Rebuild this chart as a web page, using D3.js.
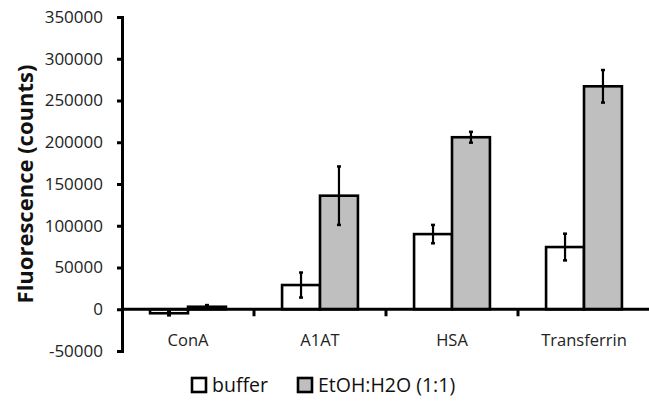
<!DOCTYPE html>
<html>
<head>
<meta charset="utf-8">
<script src="https://cdn.jsdelivr.net/npm/d3@7"></script>
<style>
  body { margin: 0; background: #fff; }
  svg { font-family: "Open Sans", sans-serif; }
</style>
</head>
<body>
<svg id="chart" width="649" height="413"></svg>
<script>
// data
var categories = ['ConA', 'A1AT', 'HSA', 'Transferrin'];
var seriesNames = ['buffer', 'EtOH:H2O (1:1)'];
var bufferVals = [-4800, 29000, 90000, 74500];
var bufferErr = [2500, 15000, 11000, 16000];
var ethanolVals = [3000, 136000, 206000, 267000];
var ethanolErr = [2000, 35000, 6500, 19500];
var yTicks = [-50000, 0, 50000, 100000, 150000, 200000, 250000, 300000, 350000];
var fills = ['#ffffff', '#bfbfbf'];

var svg = d3.select('#chart');
var left = 122, right = 650;

var y = d3.scaleLinear().domain([-50000, 350000]).range([351, 17]);
var x = d3.scaleBand().domain(categories).range([left, right]).paddingInner(0).paddingOuter(0);
var inner = d3.scaleBand().domain([0, 1]).range([0, x.bandwidth()]).paddingOuter(0.74).paddingInner(0);

// y axis
var yAxis = d3.axisLeft(y).tickValues(yTicks).tickSize(5).tickPadding(14)
  .tickFormat((d) => d < 0 ? '-' + Math.abs(d) : String(d));
var yg = svg.append('g').attr('transform', 'translate(' + left + ',0)').call(yAxis);
yg.select('.domain').attr('stroke', '#000').attr('stroke-width', 3);
yg.selectAll('.tick line').attr('stroke', '#000').attr('stroke-width', 3);
yg.selectAll('.tick text').attr('fill', '#222').style('font-size', '17px').style('font-family', '"Open Sans", sans-serif');

svg.append('text')
  .attr('transform', 'translate(33,' + 184 + ')rotate(-90)')
  .attr('text-anchor', 'middle')
  .style('font-size', '22px')
  .style('font-weight', 'bold')
  .attr('fill', '#111')
  .text('Fluorescence (counts)');

var series = [
  { vals: bufferVals, err: bufferErr },
  { vals: ethanolVals, err: ethanolErr }
];

var groups = svg.selectAll('g.series')
  .data(series)
  .enter().append('g')
  .attr('class', 'series');

groups.each(function(s, si) {
  var g = d3.select(this);
  var rows = categories.map(function(c, i) { return { cat: c, v: s.vals[i], e: s.err[i] }; });
  g.selectAll('rect')
    .data(rows)
    .enter().append('rect')
    .attr('x', (d) => x(d.cat) + inner(si))
    .attr('y', (d) => y(Math.max(0, d.v)))
    .attr('width', inner.bandwidth())
    .attr('height', (d) => Math.abs(y(d.v) - y(0)))
    .attr('fill', fills[si])
    .attr('stroke', '#000')
    .attr('stroke-width', 2.6);

  var cx = (d) => x(d.cat) + inner(si) + inner.bandwidth() / 2;
  g.selectAll('line.err')
    .data(rows)
    .enter().append('line')
    .attr('class', 'err')
    .attr('x1', cx).attr('x2', cx)
    .attr('y1', (d) => y(d.v + d.e))
    .attr('y2', (d) => y(d.v - d.e))
    .attr('stroke', '#000')
    .attr('stroke-width', 2.2);
  g.selectAll('line.capTop')
    .data(rows)
    .enter().append('line')
    .attr('x1', (d) => cx(d) - 2).attr('x2', (d) => cx(d) + 2)
    .attr('y1', (d) => y(d.v + d.e)).attr('y2', (d) => y(d.v + d.e))
    .attr('stroke', '#000').attr('stroke-width', 2.5);
  g.selectAll('line.capBot')
    .data(rows)
    .enter().append('line')
    .attr('x1', (d) => cx(d) - 2).attr('x2', (d) => cx(d) + 2)
    .attr('y1', (d) => y(d.v - d.e)).attr('y2', (d) => y(d.v - d.e))
    .attr('stroke', '#000').attr('stroke-width', 2.5);
});

// x axis at zero
svg.append('line')
  .attr('x1', left).attr('x2', right)
  .attr('y1', y(0)).attr('y2', y(0))
  .attr('stroke', '#000').attr('stroke-width', 3);

svg.selectAll('line.xtick')
  .data(categories.slice(1))
  .enter().append('line')
  .attr('class', 'xtick')
  .attr('x1', (d) => x(d)).attr('x2', (d) => x(d))
  .attr('y1', y(0)).attr('y2', y(0) + 7)
  .attr('stroke', '#000').attr('stroke-width', 3);

svg.selectAll('text.cat')
  .data(categories)
  .enter().append('text')
  .attr('class', 'cat')
  .attr('x', (d) => x(d) + x.bandwidth() / 2)
  .attr('y', 346)
  .attr('text-anchor', 'middle')
  .attr('fill', '#222')
  .style('font-size', '16.5px')
  .text((d) => d);

// legend
var legendX = [192, 298];
var leg = svg.selectAll('g.legend')
  .data(seriesNames)
  .enter().append('g')
  .attr('class', 'legend')
  .attr('transform', (d, i) => 'translate(' + legendX[i] + ',378)');
leg.append('rect')
  .attr('width', 14).attr('height', 14)
  .attr('fill', (d, i) => fills[i])
  .attr('stroke', '#000').attr('stroke-width', 2.6);
leg.append('text')
  .attr('x', 20).attr('y', 14)
  .attr('fill', '#111')
  .style('font-size', '19.5px')
  .text((d) => d);
</script>
</body>
</html>
